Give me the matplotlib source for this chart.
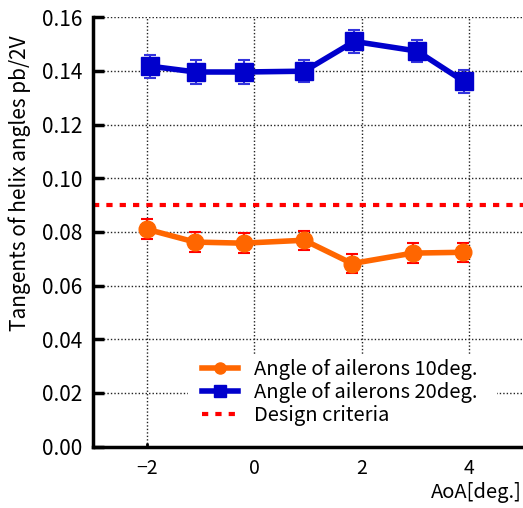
# Tangents of helix angles vs AoA
import numpy as np
import matplotlib.pyplot as plt
from matplotlib.lines import Line2D
from matplotlib.patches import Rectangle

plt.rcParams['font.family'] = ['Noto Sans CJK JP', 'DejaVu Sans']

# Dane
aoa_10 = [-2.0, -1.1, -0.2, 0.93, 1.82, 2.95, 3.88]
tan_10 = [0.0810, 0.0762, 0.0758, 0.0769, 0.0682, 0.0721, 0.0724]
err_10 = [0.0037, 0.0036, 0.0037, 0.0036, 0.0037, 0.0036, 0.0036]

aoa_20 = [-1.95, -1.09, -0.2, 0.93, 1.86, 3.03, 3.9]
tan_20 = [0.1418, 0.1396, 0.1396, 0.1399, 0.1510, 0.1474, 0.1361]
err_20 = [0.0043, 0.0043, 0.0043, 0.0042, 0.0043, 0.0042, 0.0043]

design = 0.09

labels = ['Angle of ailerons 10deg.', 'Angle of ailerons 20deg.', 'Design criteria']
x_ticks = [-2, 0, 2, 4]
y_ticks = np.arange(0, 0.161, 0.02)

fig = plt.figure(figsize=(5.23, 5.08), dpi=100)
ax = fig.add_axes([0.178, 0.121, 0.822, 0.845])

ax.errorbar(aoa_10, tan_10, yerr=err_10, color='#FF6600', marker='o', ms=12,
            lw=4, ecolor='#FF0000', elinewidth=1.5, capsize=4, capthick=1.5,
            zorder=3)
ax.errorbar(aoa_20, tan_20, yerr=err_20, color='#0000CC', marker='s', ms=13,
            lw=4, ecolor='#3333DD', elinewidth=1.5, capsize=4, capthick=1.5,
            zorder=3)
ax.axhline(design, color='#FF0000', lw=3, ls=(0, (1.5, 1.7)), zorder=2)

ax.set_xlim(-3, 5)
ax.set_ylim(0, 0.16)
ax.set_xticks(x_ticks)
ax.set_xticklabels(['\u22122', '0', '2', '4'])
ax.set_yticks(y_ticks)
ax.set_yticklabels(['%.2f' % v for v in y_ticks])
ax.tick_params(axis='y', direction='in', length=8, width=2.5, labelsize=15, pad=8)
ax.tick_params(axis='x', direction='in', length=3, width=2, labelsize=14, pad=8)

ax.grid(True, color='#222222', ls=(0, (1, 1.5)), lw=1)
for s in ['top', 'right']:
    ax.spines[s].set_visible(False)
for s in ['left', 'bottom']:
    ax.spines[s].set_linewidth(2.5)

fig.text(0.038, 0.64, 'Tangents of helix angles pb/2V', rotation=90,
         ha='center', va='center', fontsize=15)
fig.text(0.997, 0.03, 'AoA[deg.]', ha='right', va='center', fontsize=14.5)

# biale tlo legendy (zakrywa siatke)
ax.add_patch(Rectangle((0.22, 0.0), 0.72, 0.213, transform=ax.transAxes,
                       facecolor='white', edgecolor='none', zorder=1.8))

handles = [
    Line2D([], [], color='#FF6600', lw=4, marker='o', ms=8),
    Line2D([], [], color='#0000CC', lw=4, marker='s', ms=8),
    Line2D([], [], color='#FF0000', lw=3, ls=(0, (1.5, 1.7))),
]
ax.legend(handles, labels, loc='upper left', bbox_to_anchor=(0.253, 0.203),
          frameon=False, fontsize=14.5, handlelength=1.8, handletextpad=0.8,
          labelspacing=0.1, borderpad=0, borderaxespad=0)

plt.savefig('out.png', dpi=100)
